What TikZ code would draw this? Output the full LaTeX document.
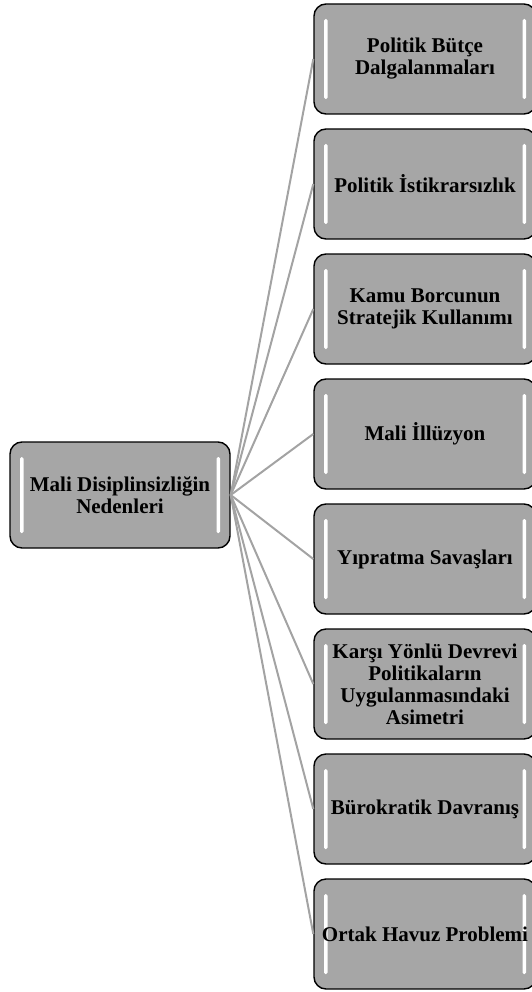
\documentclass[tikz,border=0pt]{standalone}
\usepackage{fontspec}
\setmainfont{Liberation Serif}
\definecolor{boxgray}{HTML}{A6A6A6}
\definecolor{linegray}{HTML}{A3A3A3}
\tikzset{
  causebox/.style={draw=black, line width=1.4pt, rounded corners=12pt, fill=boxgray,
    align=center, inner sep=0pt, font=\fontsize{21}{22}\selectfont\bfseries,
    minimum width=222pt, minimum height=110pt,
    path picture={
      \fill[white, rounded corners=1.5pt]
        ([xshift=10pt,yshift=-15pt]path picture bounding box.north west) rectangle
        ([xshift=13.5pt,yshift=15pt]path picture bounding box.south west);
      \fill[white, rounded corners=1.5pt]
        ([xshift=-13.5pt,yshift=-15pt]path picture bounding box.north east) rectangle
        ([xshift=-10pt,yshift=15pt]path picture bounding box.south east);
    }},
  spoke/.style={draw=linegray, line width=2pt}
}
\begin{document}
\begin{tikzpicture}[x=1pt,y=1pt]
        \useasboundingbox (0,0) rectangle (531,-992);

        \node [causebox, minimum width=220pt, minimum height=106pt] (mali) at (120,-495)
          {Mali Disiplinsizliğin\\Nedenleri};

        \node [causebox] (butce) at (425,-59) {Politik Bütçe\\Dalgalanmaları};
        \node [causebox] (istikrar) at (425,-184) {Politik İstikrarsızlık};
        \node [causebox] (borc) at (425,-309) {Kamu Borcunun\\Stratejik Kullanımı};
        \node [causebox] (illuzyon) at (425,-434) {Mali İllüzyon};
        \node [causebox] (yipratma) at (425,-559) {Yıpratma Savaşları};
        \node [causebox] (asimetri) at (425,-684)
          {Karşı Yönlü Devrevi\\Politikaların\\Uygulanmasındaki\\Asimetri};
        \node [causebox] (burokrasi) at (425,-809) {Bürokratik Davranış};
        \node [causebox] (havuz) at (425,-934) {Ortak Havuz Problemi};

        \draw [spoke] (mali.east) -- (butce.west);
        \draw [spoke] (mali.east) -- (istikrar.west);
        \draw [spoke] (mali.east) -- (borc.west);
        \draw [spoke] (mali.east) -- (illuzyon.west);
        \draw [spoke] (mali.east) -- (yipratma.west);
        \draw [spoke] (mali.east) -- (asimetri.west);
        \draw [spoke] (mali.east) -- (burokrasi.west);
        \draw [spoke] (mali.east) -- (havuz.west);
      \end{tikzpicture}
\end{document}
